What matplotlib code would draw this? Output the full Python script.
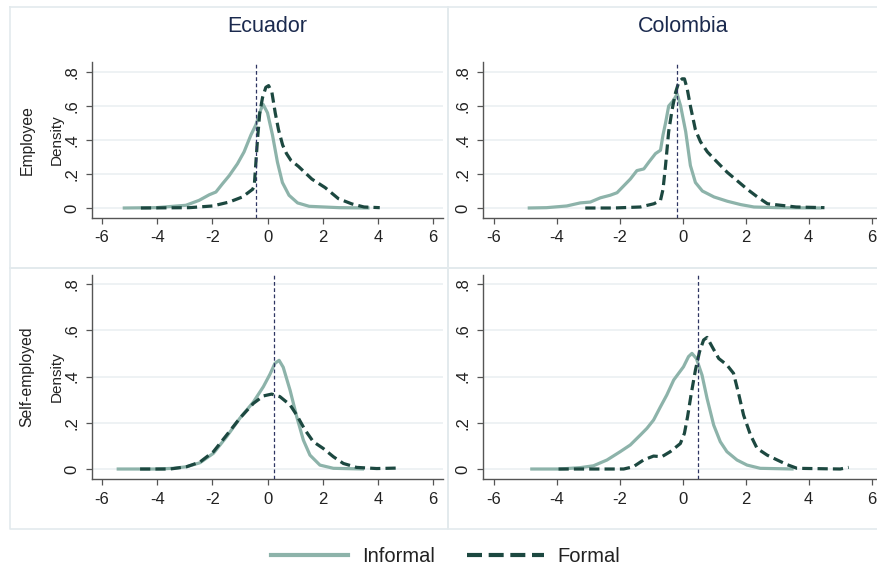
import matplotlib
matplotlib.use("Agg")
import matplotlib.pyplot as plt
from matplotlib.lines import Line2D
import numpy as np

plt.rcParams['font.family'] = ['Liberation Sans', 'DejaVu Sans']

countries = ["Ecuador", "Colombia"]
groups = ["Employee", "Self-employed"]
x_ticks = [-6, -4, -2, 0, 2, 4, 6]
y_ticks = [0, 0.2, 0.4, 0.6, 0.8]
y_tick_labels = ["0", ".2", ".4", ".6", ".8"]

# Ecuador, employees
ec_emp_inf_x = [-5.25, -4.05, -2.96, -2.48, -2.11, -1.87, -1.63, -1.39, -1.09, -0.85,
                -0.60, -0.42, -0.24, -0.16, 0.0, 0.18, 0.36, 0.54, 0.78, 1.09, 1.51, 2.6, 3.7]
ec_emp_inf_y = [0.0, 0.002, 0.016, 0.045, 0.078, 0.094, 0.143, 0.19, 0.26, 0.33,
                0.43, 0.49, 0.58, 0.61, 0.56, 0.43, 0.27, 0.15, 0.075, 0.03, 0.01, 0.002, 0.0]
ec_emp_for_x = [-4.59, -2.84, -1.99, -1.39, -0.91, -0.54, -0.48, -0.42, -0.36, -0.28,
                -0.18, -0.06, 0.04, 0.16, 0.28, 0.40, 0.55, 0.69, 0.85, 1.12, 1.61,
                2.09, 2.57, 3.06, 3.5, 4.07]
ec_emp_for_y = [0.0, 0.002, 0.012, 0.035, 0.065, 0.11, 0.13, 0.27, 0.41, 0.56,
                0.65, 0.71, 0.72, 0.68, 0.56, 0.46, 0.37, 0.32, 0.28, 0.245, 0.17,
                0.12, 0.055, 0.024, 0.006, 0.002]

# Colombia, employees
co_emp_inf_x = [-4.93, -4.33, -3.69, -3.26, -2.94, -2.62, -2.31, -2.09, -1.88, -1.67,
                -1.46, -1.24, -1.08, -0.87, -0.71, -0.63, -0.55, -0.45, -0.31, -0.18,
                -0.07, 0.09, 0.24, 0.40, 0.62, 0.99, 1.41, 1.84, 2.26, 3.0, 4.4]
co_emp_inf_y = [0.0, 0.002, 0.012, 0.03, 0.035, 0.06, 0.075, 0.09, 0.13, 0.17,
                0.22, 0.23, 0.27, 0.32, 0.34, 0.43, 0.50, 0.60, 0.63, 0.67,
                0.60, 0.45, 0.25, 0.15, 0.10, 0.065, 0.04, 0.02, 0.006, 0.002, 0.0]
co_emp_for_x = [-3.10, -2.2, -1.35, -0.92, -0.71, -0.63, -0.55, -0.45, -0.34, -0.23,
                -0.13, -0.02, 0.05, 0.14, 0.24, 0.40, 0.56, 0.78, 1.09, 1.41, 1.73,
                2.05, 2.37, 2.69, 3.11, 3.6, 4.5]
co_emp_for_y = [0.0, 0.0, 0.006, 0.025, 0.045, 0.11, 0.25, 0.45, 0.58, 0.68,
                0.74, 0.76, 0.76, 0.70, 0.60, 0.46, 0.39, 0.33, 0.27, 0.21, 0.16,
                0.11, 0.065, 0.025, 0.016, 0.006, 0.002]

# Ecuador, self-employed
ec_self_inf_x = [-5.47, -4.02, -3.41, -2.93, -2.45, -1.96, -1.48, -1.0, -0.51, -0.15,
                 0.09, 0.27, 0.42, 0.57, 0.82, 1.06, 1.30, 1.54, 1.90, 2.39, 3.5]
ec_self_inf_y = [0.0, 0.0, 0.003, 0.01, 0.027, 0.068, 0.14, 0.22, 0.29, 0.356,
                 0.41, 0.457, 0.47, 0.44, 0.34, 0.226, 0.125, 0.06, 0.017, 0.003, 0.0]
ec_self_for_x = [-4.62, -3.53, -2.93, -2.45, -1.96, -1.48, -1.0, -0.51, -0.15, 0.15,
                 0.45, 0.82, 1.06, 1.36, 1.66, 2.02, 2.39, 2.75, 3.23, 3.96, 4.69]
ec_self_for_y = [0.0, 0.0, 0.01, 0.03, 0.075, 0.147, 0.22, 0.284, 0.316, 0.324,
                 0.313, 0.277, 0.233, 0.169, 0.118, 0.089, 0.053, 0.024, 0.007, 0.002, 0.004]

# Colombia, self-employed
co_self_inf_x = [-4.85, -3.90, -3.26, -2.84, -2.41, -1.99, -1.67, -1.35, -1.14, -0.93,
                 -0.72, -0.51, -0.29, -0.10, 0.02, 0.18, 0.29, 0.43, 0.61, 0.77,
                 0.98, 1.19, 1.40, 1.72, 2.04, 2.46, 3.52]
co_self_inf_y = [0.0, 0.0, 0.006, 0.014, 0.039, 0.075, 0.104, 0.147, 0.176, 0.212,
                 0.267, 0.32, 0.385, 0.42, 0.442, 0.486, 0.50, 0.478, 0.406, 0.305,
                 0.19, 0.118, 0.075, 0.039, 0.017, 0.003, 0.0]
co_self_for_x = [-3.95, -1.88, -1.57, -1.25, -0.93, -0.67, -0.40, -0.08, 0.05, 0.15,
                 0.26, 0.40, 0.53, 0.66, 0.77, 0.93, 1.14, 1.40, 1.61, 1.77, 1.93,
                 2.15, 2.36, 2.68, 3.0, 3.31, 3.63, 5.0, 5.27]
co_self_for_y = [0.0, 0.0, 0.01, 0.039, 0.056, 0.053, 0.075, 0.11, 0.154, 0.226,
                 0.32, 0.428, 0.507, 0.558, 0.569, 0.529, 0.478, 0.45, 0.414, 0.327, 0.233,
                 0.147, 0.089, 0.06, 0.039, 0.019, 0.003, 0.0, 0.007]

# Reference (vertical) line positions per panel
ref_lines = {("Ecuador", "Employee"): -0.40, ("Colombia", "Employee"): -0.18,
             ("Ecuador", "Self-employed"): 0.22, ("Colombia", "Self-employed"): 0.49}

curves = {
    ("Ecuador", "Employee"): (ec_emp_inf_x, ec_emp_inf_y, ec_emp_for_x, ec_emp_for_y),
    ("Colombia", "Employee"): (co_emp_inf_x, co_emp_inf_y, co_emp_for_x, co_emp_for_y),
    ("Ecuador", "Self-employed"): (ec_self_inf_x, ec_self_inf_y, ec_self_for_x, ec_self_for_y),
    ("Colombia", "Self-employed"): (co_self_inf_x, co_self_inf_y, co_self_for_x, co_self_for_y),
}

W, H = 877, 569
fig = plt.figure(figsize=(W / 100, H / 100), dpi=100)
fig.patch.set_facecolor("white")

INF_COLOR = "#8db3aa"
FOR_COLOR = "#1c4840"
REF_COLOR = "#2e3562"
GRID_COLOR = "#e9eff1"
FRAME_COLOR = "#e3eaed"
TEXT_COLOR = "#222222"
TITLE_COLOR = "#1b2a4e"


def px_rect(left, top, right, bottom):
    return [left / W, 1 - bottom / H, (right - left) / W, (bottom - top) / H]


# axes boxes in pixels: (left, top, right, bottom)
boxes = {
    ("Ecuador", "Employee"): (92, 62, 443, 218),
    ("Colombia", "Employee"): (483, 62, 883, 218),
    ("Ecuador", "Self-employed"): (92, 275, 443, 479),
    ("Colombia", "Self-employed"): (483, 275, 883, 479),
}
ylims = {"Employee": (-0.0588, 0.859), "Self-employed": (-0.0432, 0.839)}
xlims = {"Ecuador": (-6.363, 6.363), "Colombia": (-6.35, 6.36)}

# light frames around each sub-graph
for x0, y0, x1, y1 in [(10, 7, 448, 268), (448, 7, 890, 268),
                       (10, 268, 448, 529), (448, 268, 890, 529)]:
    xs = np.array([x0, x1, x1, x0, x0]) / W
    ys = 1 - np.array([y0, y0, y1, y1, y0]) / H
    fig.add_artist(Line2D(xs, ys, transform=fig.transFigure, color=FRAME_COLOR, lw=1.2))

for (country, group), box in boxes.items():
    ax = fig.add_axes(px_rect(*box))
    ax.set_facecolor("white")
    inf_x, inf_y, for_x, for_y = curves[(country, group)]
    ax.set_xlim(*xlims[country])
    ax.set_ylim(*ylims[group])
    for yv in y_ticks:
        ax.axhline(yv, color=GRID_COLOR, lw=1.1, zorder=0)
    ax.plot(inf_x, inf_y, color=INF_COLOR, lw=2.3, solid_capstyle="butt", zorder=2)
    ax.plot(for_x, for_y, color=FOR_COLOR, lw=2.3, dashes=(3.2, 1.6), zorder=3)
    ax.axvline(ref_lines[(country, group)], color=REF_COLOR, lw=0.9,
               dashes=(3, 2), zorder=4)
    ax.set_xticks(x_ticks)
    ax.set_xticklabels([str(t) for t in x_ticks])
    ax.set_yticks(y_ticks)
    ax.set_yticklabels(y_tick_labels, rotation=90, va="center")
    for s in ["top", "right"]:
        ax.spines[s].set_visible(False)
    for s in ["left", "bottom"]:
        ax.spines[s].set_color("#555555")
        ax.spines[s].set_linewidth(1.0)
    ax.tick_params(axis="both", direction="out", length=4, width=0.9,
                   color="#555555", labelsize=12, labelcolor=TEXT_COLOR, pad=5)
    ax.tick_params(axis="y", pad=5)

# column titles
fig.text(267.5 / W, 1 - 26 / H, "Ecuador", ha="center", va="center",
         fontsize=15.5, color=TITLE_COLOR)
fig.text(683 / W, 1 - 26 / H, "Colombia", ha="center", va="center",
         fontsize=15.5, color=TITLE_COLOR)

# row labels and y-axis titles
fig.text(27 / W, 1 - 140 / H, "Employee", rotation=90, ha="center", va="center",
         fontsize=11.3, color=TEXT_COLOR)
fig.text(57 / W, 1 - 140 / H, "Density", rotation=90, ha="center", va="center",
         fontsize=11, color=TEXT_COLOR)
fig.text(27 / W, 1 - 377 / H, "Self-employed", rotation=90, ha="center", va="center",
         fontsize=11.3, color=TEXT_COLOR)
fig.text(57 / W, 1 - 377 / H, "Density", rotation=90, ha="center", va="center",
         fontsize=11, color=TEXT_COLOR)

# legend
handles = [Line2D([], [], color=INF_COLOR, lw=3.0),
           Line2D([], [], color=FOR_COLOR, lw=3.0, dashes=(3.6, 1.6))]
fig.legend(handles, ["Informal", "Formal"], loc="center", ncol=2,
           bbox_to_anchor=(446 / W, 1 - 557 / H), frameon=False, fontsize=14.5,
           handlelength=3.8, handletextpad=0.7, columnspacing=1.6,
           labelcolor=TEXT_COLOR)

fig.savefig("out.png", dpi=100, facecolor="white")
